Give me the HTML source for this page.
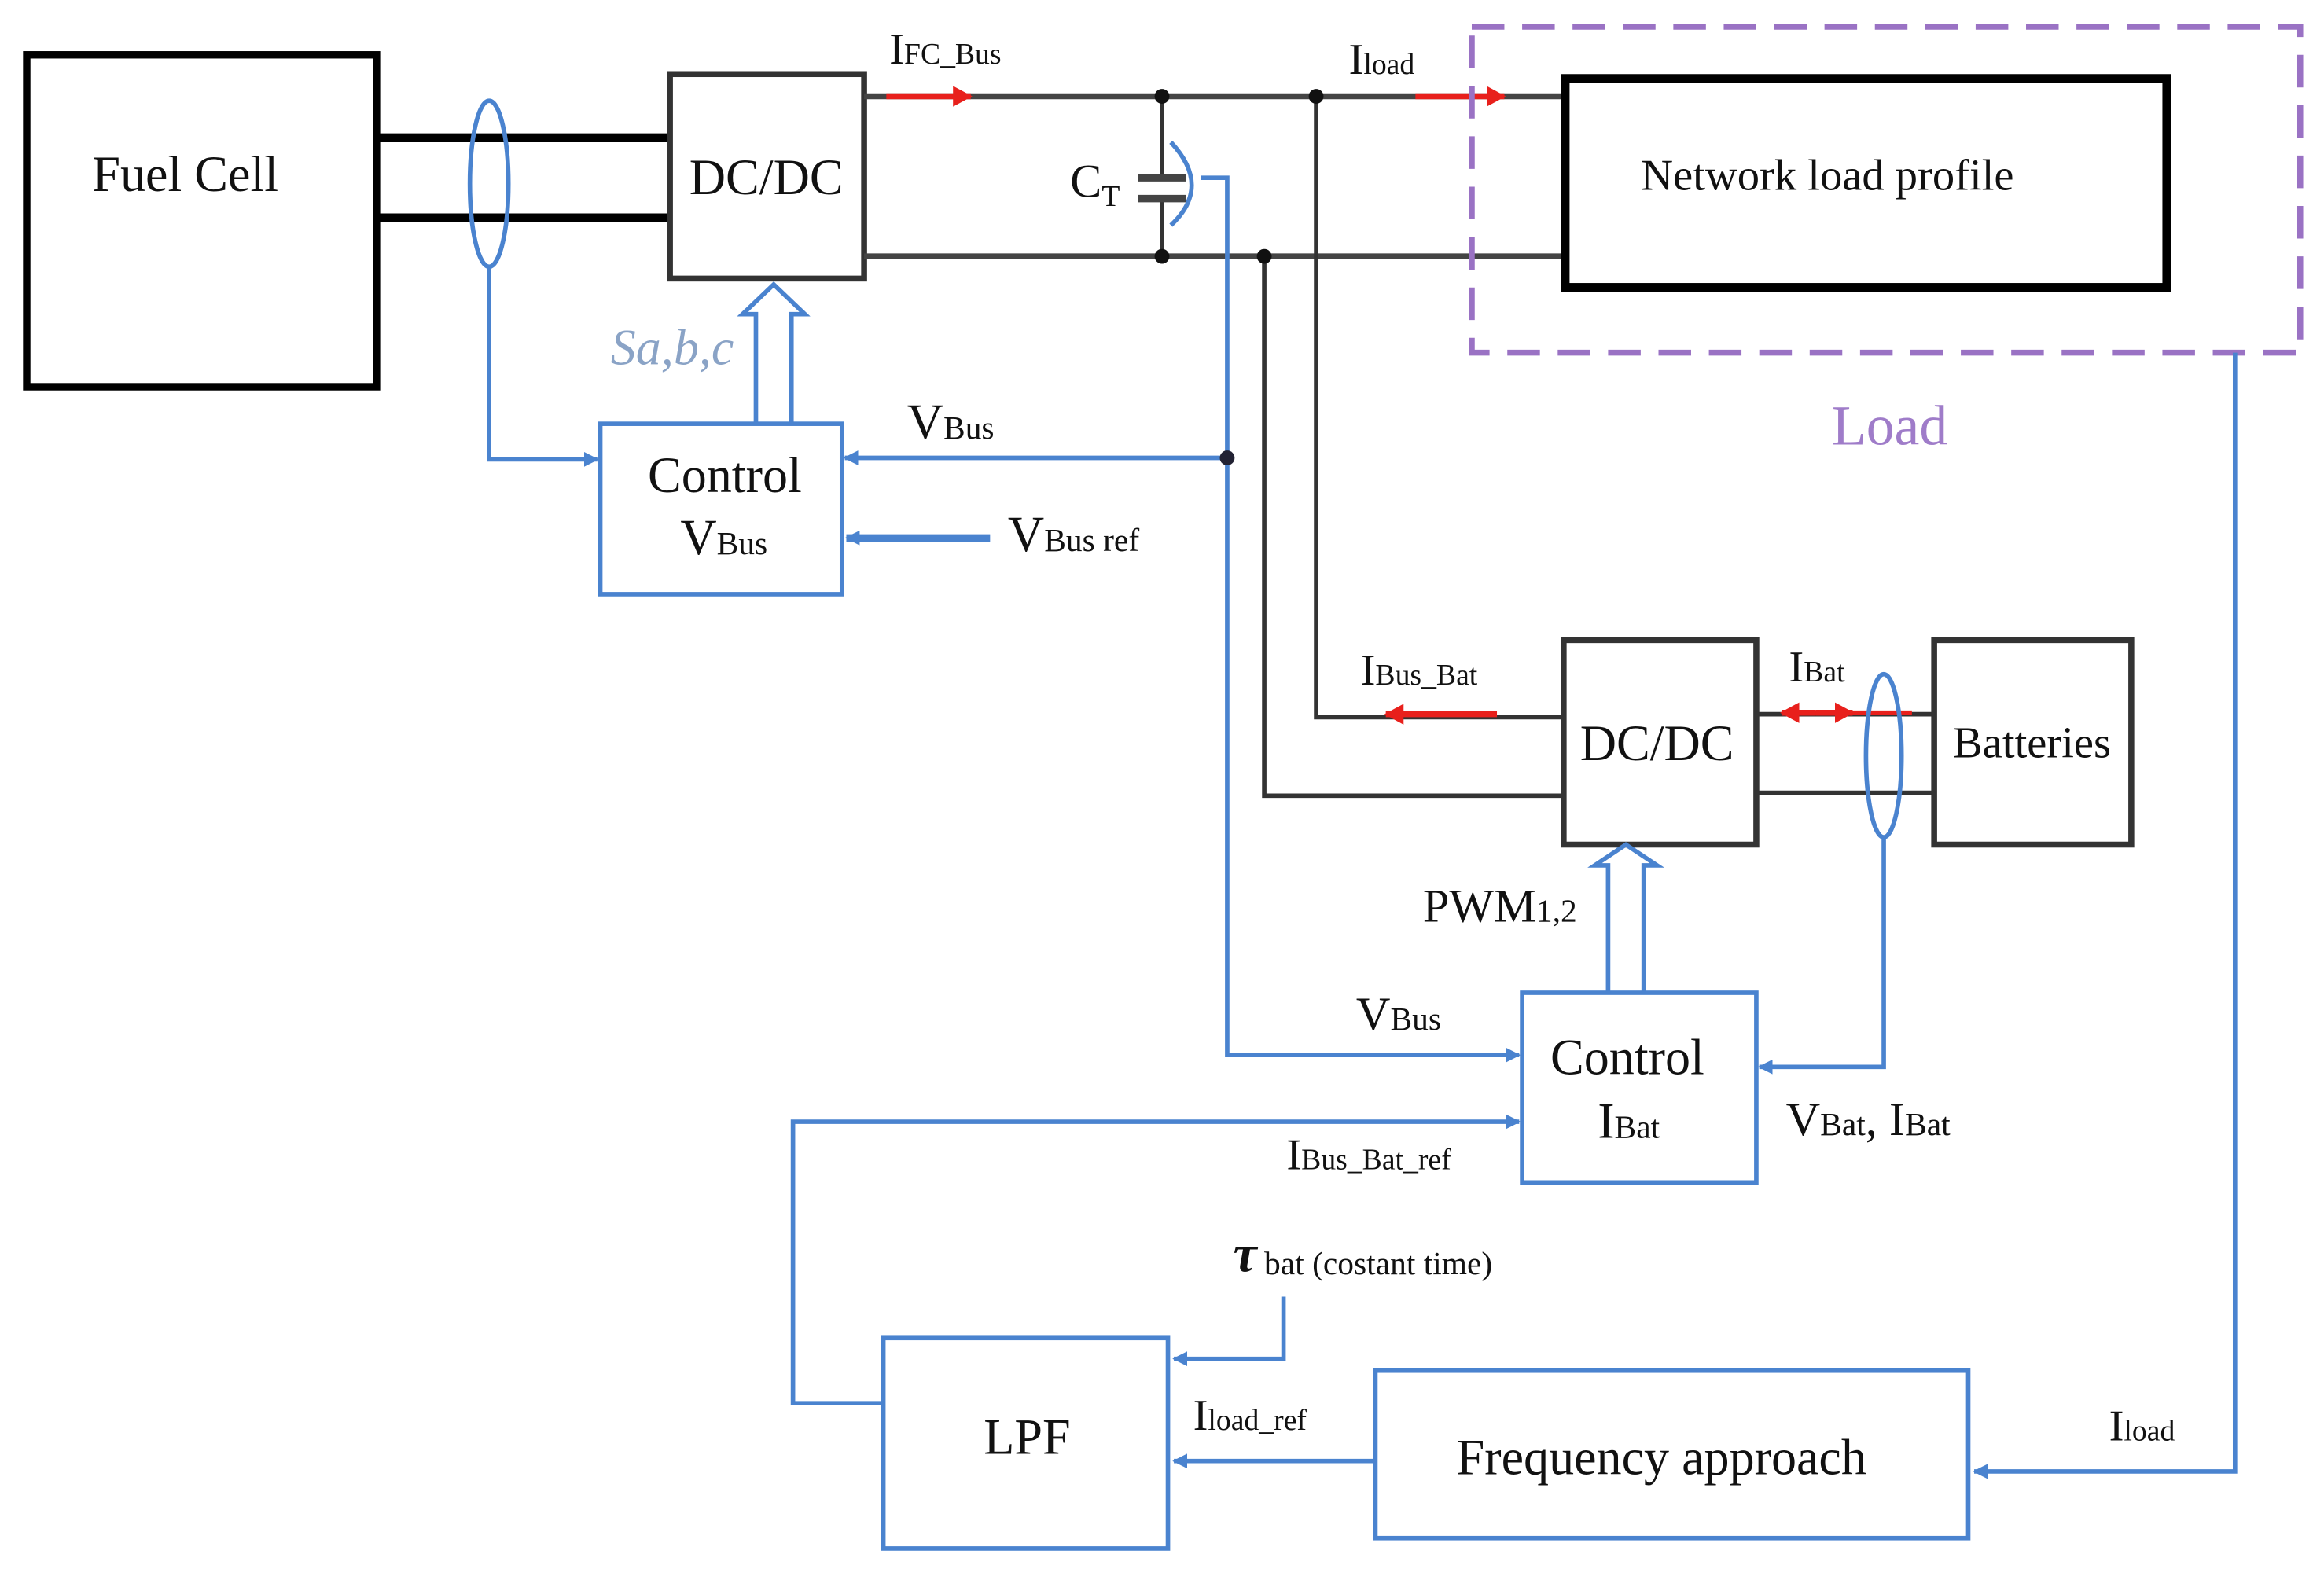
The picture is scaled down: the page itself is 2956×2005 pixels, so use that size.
<!DOCTYPE html>
<html><head><meta charset="utf-8"><style>
html,body{margin:0;padding:0;background:#fff}
svg{display:block}
svg text{font-family:"Liberation Serif","DejaVu Serif","Times New Roman",serif;fill:#111}
</style></head><body>
<svg width="2956" height="2005" viewBox="0 0 1568 1063.6" xmlns="http://www.w3.org/2000/svg" font-family="Liberation Serif, DejaVu Serif, serif">
<defs>
<marker id="ba" markerWidth="10" markerHeight="10" refX="9" refY="5" orient="auto" markerUnits="userSpaceOnUse"><path d="M0,0 L10,5 L0,10 Z" fill="#4a83cf"/></marker>
<marker id="ra" markerWidth="14" markerHeight="14" refX="12" refY="7" orient="auto" markerUnits="userSpaceOnUse"><path d="M0,0 L13,7 L0,14 Z" fill="#e8201c"/></marker>
</defs>
<rect width="1568" height="1064" fill="#fff"/>

<rect x="18" y="37" width="236" height="224" fill="none" stroke="#000" stroke-width="5"/>
<text x="125" y="129" font-size="34" text-anchor="middle">Fuel Cell</text>
<line x1="254" y1="93" x2="452" y2="93" stroke="#000" stroke-width="6"/>
<line x1="254" y1="147" x2="452" y2="147" stroke="#000" stroke-width="6"/>
<ellipse cx="330" cy="124" rx="13" ry="56" fill="none" stroke="#4a83cf" stroke-width="3"/>
<polyline points="330,180 330,310 403,310" fill="none" stroke="#4a83cf" stroke-width="3" marker-end="url(#ba)"/>

<rect x="452" y="50" width="131" height="138" fill="#fff" stroke="#333" stroke-width="4"/>
<text x="517" y="131" font-size="34" text-anchor="middle">DC/DC</text>

<line x1="583" y1="65" x2="1057" y2="65" stroke="#444" stroke-width="4"/>
<line x1="583" y1="173" x2="1057" y2="173" stroke="#444" stroke-width="4"/>
<line x1="598" y1="65" x2="655" y2="65" stroke="#e8201c" stroke-width="4" marker-end="url(#ra)"/>
<text x="600" y="43" font-size="30">I<tspan font-size="20">FC_Bus</tspan></text>
<line x1="955" y1="65" x2="1015" y2="65" stroke="#e8201c" stroke-width="4" marker-end="url(#ra)"/>
<text x="910" y="50" font-size="30">I<tspan font-size="20">load</tspan></text>

<line x1="784" y1="65" x2="784" y2="120" stroke="#333" stroke-width="3"/>
<line x1="784" y1="134" x2="784" y2="173" stroke="#333" stroke-width="3"/>
<line x1="768" y1="120" x2="800" y2="120" stroke="#444" stroke-width="5"/>
<line x1="768" y1="134" x2="800" y2="134" stroke="#444" stroke-width="5"/>
<circle cx="784" cy="65" r="5" fill="#111"/><circle cx="784" cy="173" r="5" fill="#111"/>
<text x="722" y="133" font-size="32">C<tspan font-size="20" dy="6">T</tspan></text>
<path d="M790,96 Q818,126 790,152" fill="none" stroke="#4a83cf" stroke-width="3"/>
<polyline points="810,120 828,120 828,712 1025,712" fill="none" stroke="#4a83cf" stroke-width="3" marker-end="url(#ba)"/>
<line x1="828" y1="309" x2="570" y2="309" stroke="#4a83cf" stroke-width="3" marker-end="url(#ba)"/>
<circle cx="828" cy="309" r="5" fill="#223"/>

<polyline points="888,65 888,484 1055,484" fill="none" stroke="#333" stroke-width="3"/>
<polyline points="853,173 853,537 1055,537" fill="none" stroke="#333" stroke-width="3"/>
<circle cx="888" cy="65" r="5" fill="#111"/><circle cx="853" cy="173" r="5" fill="#111"/>
<line x1="1010" y1="482" x2="935" y2="482" stroke="#e8201c" stroke-width="4" marker-end="url(#ra)"/>
<text x="918" y="462" font-size="30">I<tspan font-size="20">Bus_Bat</tspan></text>

<rect x="993" y="18" width="559" height="220" fill="none" stroke="#9a72c4" stroke-width="4" stroke-dasharray="22,12"/>
<rect x="1056" y="53" width="406" height="141" fill="#fff" stroke="#000" stroke-width="6"/>
<text x="1233" y="128" font-size="30" text-anchor="middle">Network load profile</text>
<text x="1275" y="300" font-size="38" text-anchor="middle" style="fill:#9f7cc9">Load</text>
<polyline points="1508,238 1508,993 1332,993" fill="none" stroke="#4a83cf" stroke-width="3" marker-end="url(#ba)"/>
<text x="1423" y="972" font-size="30">I<tspan font-size="20">load</tspan></text>

<rect x="405" y="286" width="163" height="115" fill="#fff" stroke="#4a83cf" stroke-width="3"/>
<text x="489" y="332" font-size="34" text-anchor="middle">Control</text>
<text x="459" y="374" font-size="34">V<tspan font-size="22">Bus</tspan></text>
<path d="M510,286 V212 H501 L522,192 L543,212 H534 V286" fill="none" stroke="#4a83cf" stroke-width="3"/>
<text x="412" y="246" font-size="34" font-style="italic" style="fill:#8aa3c6">Sa,b,c</text>
<text x="612" y="296" font-size="34">V<tspan font-size="22">Bus</tspan></text>
<line x1="668" y1="363" x2="571" y2="363" stroke="#4a83cf" stroke-width="5" marker-end="url(#ba)"/>
<text x="680" y="372" font-size="34">V<tspan font-size="22">Bus  ref</tspan></text>

<rect x="1055" y="432" width="130" height="138" fill="#fff" stroke="#333" stroke-width="4"/>
<text x="1118" y="513" font-size="34" text-anchor="middle">DC/DC</text>
<rect x="1305" y="432" width="133" height="138" fill="#fff" stroke="#333" stroke-width="4"/>
<text x="1371" y="511" font-size="30" text-anchor="middle">Batteries</text>
<line x1="1185" y1="482" x2="1305" y2="482" stroke="#333" stroke-width="3"/>
<line x1="1185" y1="535" x2="1305" y2="535" stroke="#333" stroke-width="3"/>
<line x1="1222" y1="481" x2="1290" y2="481" stroke="#e8201c" stroke-width="3"/>
<line x1="1225" y1="481" x2="1202" y2="481" stroke="#e8201c" stroke-width="4" marker-end="url(#ra)"/>
<line x1="1225" y1="481" x2="1250" y2="481" stroke="#e8201c" stroke-width="4" marker-end="url(#ra)"/>
<text x="1207" y="460" font-size="30">I<tspan font-size="20">Bat</tspan></text>
<ellipse cx="1271" cy="510" rx="12" ry="55" fill="none" stroke="#4a83cf" stroke-width="3"/>
<polyline points="1271,565 1271,720 1187,720" fill="none" stroke="#4a83cf" stroke-width="3" marker-end="url(#ba)"/>

<rect x="1027" y="670" width="158" height="128" fill="#fff" stroke="#4a83cf" stroke-width="3"/>
<text x="1098" y="725" font-size="34" text-anchor="middle">Control</text>
<text x="1078" y="768" font-size="34">I<tspan font-size="22">Bat</tspan></text>
<path d="M1085,670 V584 H1076 L1097,570 L1118,584 H1109 V670" fill="none" stroke="#4a83cf" stroke-width="3"/>
<text x="960" y="622" font-size="32">PWM<tspan font-size="22">1,2</tspan></text>
<text x="915" y="695" font-size="32">V<tspan font-size="22">Bus</tspan></text>
<text x="1205" y="766" font-size="32">V<tspan font-size="22">Bat</tspan>, I<tspan font-size="22">Bat</tspan></text>
<polyline points="596,947 535,947 535,757 1025,757" fill="none" stroke="#4a83cf" stroke-width="3" marker-end="url(#ba)"/>
<text x="868" y="789" font-size="30">I<tspan font-size="20">Bus_Bat_ref</tspan></text>

<text x="832" y="858" font-size="36" font-weight="bold" font-style="italic">τ</text>
<text x="853" y="860" font-size="22">bat (costant time)</text>
<polyline points="866,875 866,917 792,917" fill="none" stroke="#4a83cf" stroke-width="3" marker-end="url(#ba)"/>
<rect x="596" y="903" width="192" height="142" fill="#fff" stroke="#4a83cf" stroke-width="3"/>
<text x="693" y="981" font-size="34" text-anchor="middle">LPF</text>
<rect x="928" y="925" width="400" height="113" fill="#fff" stroke="#4a83cf" stroke-width="3"/>
<text x="1121" y="995" font-size="34" text-anchor="middle">Frequency approach</text>
<line x1="928" y1="986" x2="792" y2="986" stroke="#4a83cf" stroke-width="3" marker-end="url(#ba)"/>
<text x="805" y="965" font-size="30">I<tspan font-size="20">load_ref</tspan></text>
</svg>
</body></html>
